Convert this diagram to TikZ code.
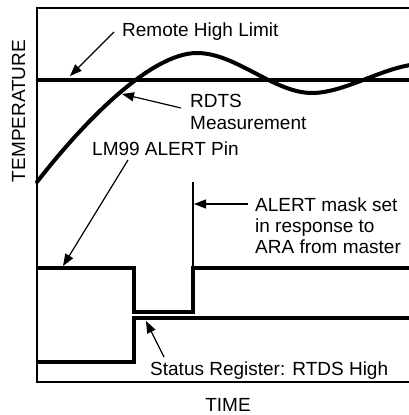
\documentclass[tikz,border=0pt]{standalone}
\usepackage{fontspec}
\setmainfont{Liberation Sans}
\usetikzlibrary{arrows.meta}
\begin{document}
\begin{tikzpicture}[x=1pt,y=-1pt,
  thickline/.style={line width=4pt,line join=miter},
  frame/.style={line width=1.5pt},
  thinline/.style={line width=1.2pt},
  pointer/.style={line width=1.2pt,-{Triangle[length=12pt,width=9pt]}},
  lbl/.style={font=\fontsize{19}{21}\selectfont, inner sep=0pt, align=left}]
\useasboundingbox (0,0) rectangle (409,415);
\begin{scope}
\clip (0,0) rectangle (409,415);
% frame
\coordinate (ftr) at (412,8);
\coordinate (ftl) at (37,8);
\coordinate (fbl) at (37,382);
\coordinate (fbr) at (412,382);
\draw[frame] (ftr) -- (ftl) -- (fbl) -- (fbr);
% limit line
\coordinate (limL) at (37,80);
\coordinate (limR) at (412,80);
\draw[thickline] (limL) -- (limR);
% measurement curve
\coordinate (c0) at (37,182);
\coordinate (c1) at (197,53);
\coordinate (c2) at (312,93);
\coordinate (c3) at (422,64);
\draw[thickline, line cap=round] (c0) .. controls (82,124) and (150,53) .. (c1)
  .. controls (236,53) and (274,93) .. (c2)
  .. controls (346,93) and (388,64) .. (c3);
% ALERT pin signal
\coordinate (a0) at (37,268);
\coordinate (a1) at (134,268);
\coordinate (a2) at (134,312);
\coordinate (a3) at (193,312);
\coordinate (a4) at (193,268);
\coordinate (a5) at (412,268);
\draw[thickline] (a0) -- (a1) -- (a2) -- (a3) -- (a4) -- (a5);
% status signal
\coordinate (s0) at (37,362);
\coordinate (s1) at (134,362);
\coordinate (s2) at (134,318);
\coordinate (s3) at (412,318);
\draw[thickline] (s0) -- (s1) -- (s2) -- (s3);
% mask marker line
\coordinate (mtop) at (193,182);
\draw[thinline] (mtop) -- (a4);
\end{scope}
% labels
\node[lbl, anchor=base west] (remote) at (122,36) {Remote High Limit};
\node[lbl, anchor=base west] (rdts) at (190,107) {RDTS};
\node[lbl, anchor=base west] (meas) at (190,129) {Measurement};
\node[lbl, anchor=base west] (lm99) at (92,155) {LM99 ALERT Pin};
\node[lbl, anchor=base west] (mask1) at (255,211) {ALERT mask set};
\node[lbl, anchor=base west] (mask2) at (255,232) {in response to};
\node[lbl, anchor=base west] (mask3) at (255,253) {ARA from master};
\node[lbl, anchor=base west] (status) at (150,375) {Status Register: RTDS High};
\node[lbl, anchor=base] (time) at (228,411) {TIME};
\node[lbl, anchor=base, rotate=90] (temp) at (25,111) {TEMPERATURE};
% pointers
\coordinate (p1s) at (114,32);  \coordinate (p1e) at (70,76);
\coordinate (p2s) at (181,108); \coordinate (p2e) at (122,94);
\coordinate (p3s) at (128,160); \coordinate (p3e) at (63,266);
\coordinate (p4s) at (248,204); \coordinate (p4e) at (194,204);
\coordinate (p5s) at (164,357); \coordinate (p5e) at (146,321);
\draw[pointer] (p1s) -- (p1e);
\draw[pointer] (p2s) -- (p2e);
\draw[pointer] (p3s) -- (p3e);
\draw[pointer] (p4s) -- (p4e);
\draw[pointer] (p5s) -- (p5e);
\end{tikzpicture}
\end{document}
